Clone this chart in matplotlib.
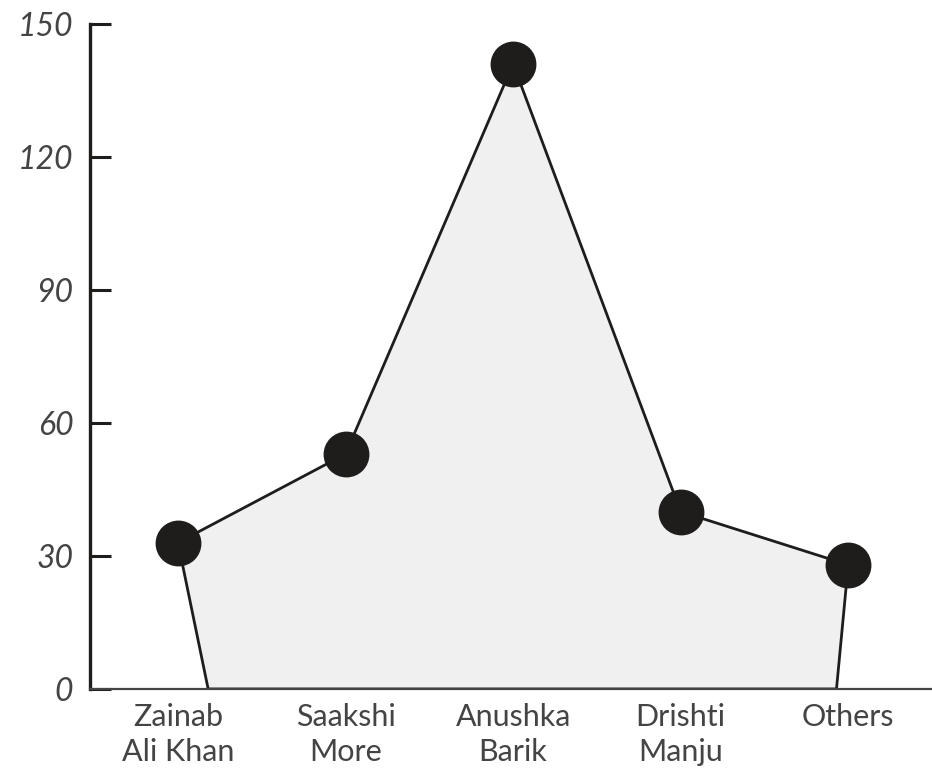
import matplotlib
matplotlib.use("Agg")
import matplotlib.pyplot as plt
import numpy as np

# data
categories = ["Zainab\nAli Khan", "Saakshi\nMore", "Anushka\nBarik", "Drishti\nManju", "Others"]
values = [33, 53, 141, 40, 28]
yticks = [0, 30, 60, 90, 120, 150]

plt.rcParams['font.family'] = ['Lato', 'DejaVu Sans']

fig = plt.figure(figsize=(9.32, 7.71), dpi=100)
ax = fig.add_axes([0.0966, 0.1064, 0.9034, 0.8625])

x = np.arange(len(categories))
ink = '#1f1c1c'
txt = '#444444'

# filled area, slanting in to the baseline at both ends
poly_x = np.concatenate([[x[0] + 0.18], x, [x[-1] - 0.07]])
poly_y = np.concatenate([[0], values, [0]])
ax.fill(poly_x, poly_y, facecolor='#f0f0f0', edgecolor=ink, linewidth=2.0, zorder=2)
ax.plot(x, values, 'o', color=ink, markersize=32, zorder=3)

ax.set_xlim(-0.525, 4.5)
ax.set_ylim(0, 150)
ax.set_xticks(x)
ax.set_xticklabels(categories, fontsize=22, weight='normal',
                   color=txt, linespacing=1.3)
ax.set_yticks(yticks)
ax.set_yticklabels([str(t) for t in yticks], fontsize=23, style='italic',
                   weight='normal', color=txt)

ax.tick_params(axis='x', length=0, pad=10)
ax.tick_params(axis='y', direction='in', length=15, width=2.2, color=ink, pad=12)

for s in ['top', 'right']:
    ax.spines[s].set_visible(False)
ax.spines['left'].set_linewidth(2.4)
ax.spines['left'].set_color(ink)
ax.spines['bottom'].set_linewidth(1.6)
ax.spines['bottom'].set_color('#444444')
for sp in ax.spines.values():
    sp.set_clip_on(False)

fig.savefig('out.png', dpi=100)
